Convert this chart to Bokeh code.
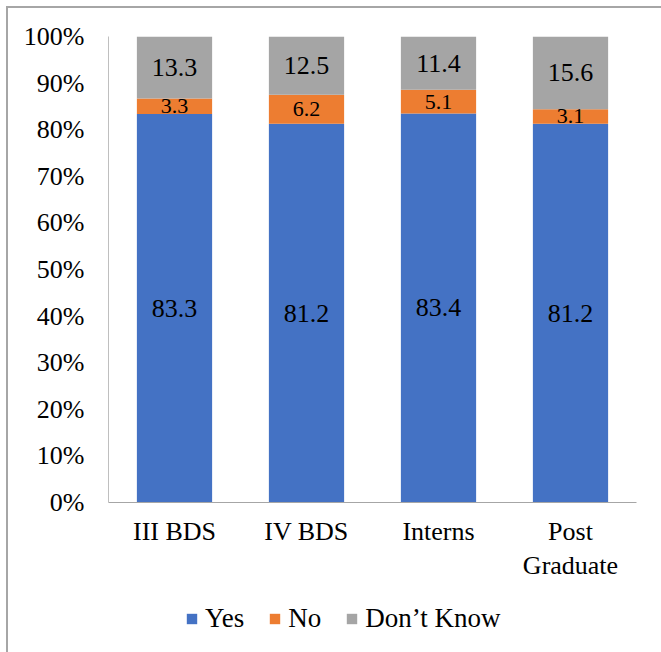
from bokeh.plotting import figure
from bokeh.layouts import column
from bokeh.models import (ColumnDataSource, FactorRange, Range1d, NumeralTickFormatter,
                          FixedTicker, Legend, LegendItem)
from bokeh.core.properties import value
from bokeh.embed import file_html
from bokeh.resources import INLINE

# Survey responses (%) by study level
groups = ["III BDS", "IV BDS", "Interns", "Post\nGraduate"]
yes = [83.3, 81.2, 83.4, 81.2]
no = [3.3, 6.2, 5.1, 3.1]
dont_know = [13.3, 12.5, 11.4, 15.6]
series_names = ["Yes", "No", "Don\u2019t Know"]
colors = ["#4472C4", "#ED7D31", "#A5A5A5"]

FONT = "Liberation Serif, Times New Roman, serif"
W = 653

# 100% stacked: each bar is scaled to its own total
totals = [a + b + c for a, b, c in zip(yes, no, dont_know)]
yes_f = [a / t for a, t in zip(yes, totals)]
no_f = [b / t for b, t in zip(no, totals)]
dk_f = [c / t for c, t in zip(dont_know, totals)]

source = ColumnDataSource(dict(group=groups, yes=yes_f, no=no_f, dk=dk_f))

p = figure(
    x_range=FactorRange(*groups, range_padding=0.0),
    y_range=Range1d(0, 1),
    width=W, height=590,
    output_backend="svg", toolbar_location=None,
    min_border_left=100, min_border_right=25,
    min_border_top=28, min_border_bottom=96,
)
p.outline_line_color = None
p.xgrid.grid_line_color = None
p.ygrid.grid_line_color = None
p.x_range.factor_padding = 0.0

stack = p.vbar_stack(["yes", "no", "dk"], x="group", width=0.57, source=source,
                     color=colors, line_color=None)

# Data labels centred in each segment
lab_x, lab_y, lab_txt, lab_size = [], [], [], []
for g, a, b, c, ra, rb, rc in zip(groups, yes_f, no_f, dk_f, yes, no, dont_know):
    lab_x += [g, g, g]
    lab_y += [a / 2, a + b / 2, a + b + c / 2]
    lab_txt += [f"{ra:.1f}", f"{rb:.1f}", f"{rc:.1f}"]
    lab_size += ["26px", "22px", "26px"]
labels = ColumnDataSource(dict(x=lab_x, y=lab_y, text=lab_txt, size=lab_size))
p.text(x="x", y="y", text="text", source=labels, text_font=value(FONT),
       text_font_size="size", text_align="center", text_baseline="middle",
       text_color="#000000")

# Axes
p.yaxis.ticker = FixedTicker(ticks=[i / 10 for i in range(11)])
p.yaxis.formatter = NumeralTickFormatter(format="0%")
for ax in (p.xaxis[0], p.yaxis[0]):
    ax.major_tick_line_color = None
    ax.minor_tick_line_color = None
    ax.major_tick_out = 0
    ax.major_tick_in = 0
    ax.major_label_text_font = FONT
    ax.major_label_text_font_size = "26px"
    ax.major_label_text_color = "#000000"
p.yaxis.axis_line_color = "#bfbfbf"
p.yaxis.major_label_standoff = 24
p.xaxis.axis_line_color = "#a6a6a6"
p.xaxis.major_label_standoff = 14

# Legend strip beneath the chart; its stacks sit above the visible range,
# so only the legend swatches show
lf = figure(width=W, height=54, x_range=FactorRange(*groups, range_padding=0.0),
            y_range=Range1d(2, 3),
            output_backend="svg", toolbar_location=None,
            x_axis_type=None, y_axis_type=None,
            min_border_left=0, min_border_right=0, min_border_top=0, min_border_bottom=0)
lf.outline_line_color = None
lf.xgrid.grid_line_color = None
lf.ygrid.grid_line_color = None
swatches = lf.vbar_stack(["yes", "no", "dk"], x="group", width=0.57, source=source,
                         color=colors, line_color=None)

legend = Legend(
    items=[LegendItem(label=n, renderers=[r]) for n, r in zip(series_names, swatches)],
    orientation="horizontal", location=(77, 18),
    glyph_width=13, glyph_height=13, label_standoff=7, spacing=24,
    padding=0, margin=0, border_line_color=None, background_fill_alpha=0,
    label_text_font=FONT, label_text_font_size="27px", label_text_color="#000000",
)
lf.add_layout(legend, "center")

page = column(p, lf, spacing=0, margin=(6, 0, 0, 6),
              styles={"border-top": "2px solid #a6a6a6",
                      "border-left": "2px solid #a6a6a6"})

open("out.html", "w").write(file_html(page, INLINE))
